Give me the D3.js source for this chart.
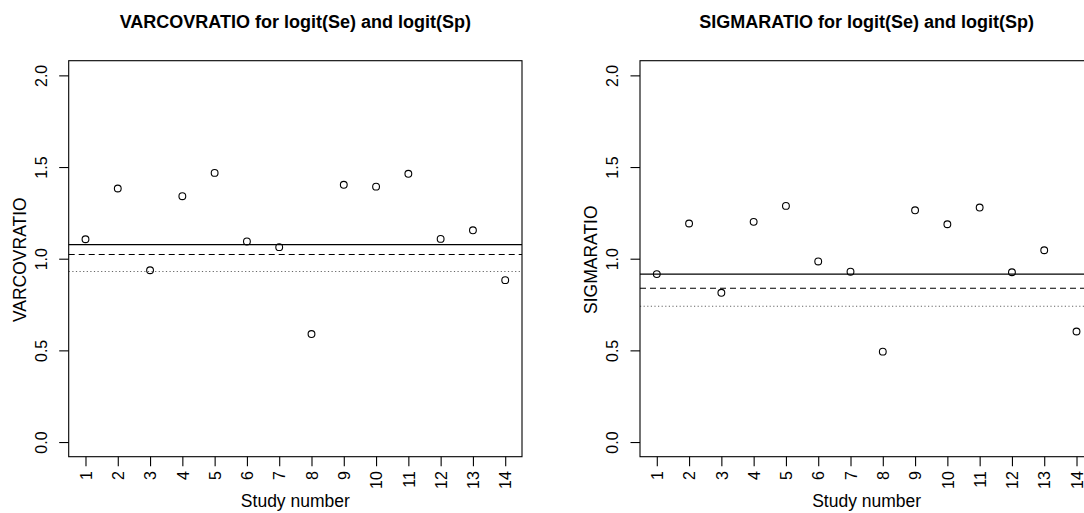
<!DOCTYPE html>
<html>
<head>
<meta charset="utf-8">
<script src="https://cdn.jsdelivr.net/npm/d3@7"></script>
<style>
  html, body { margin: 0; padding: 0; background: #fff; overflow: hidden; }
  svg { display: block; font-family: "Liberation Sans", Arial, Helvetica, sans-serif; }
</style>
</head>
<body>
<svg id="chart" width="1084" height="513"></svg>
<script>
// Study identifiers
const studies = [1, 2, 3, 4, 5, 6, 7, 8, 9, 10, 11, 12, 13, 14];

// Per-study ratio estimates
const varcovRatio = [1.106, 1.383, 0.937, 1.341, 1.468, 1.094, 1.063, 0.589, 1.403, 1.393, 1.463, 1.108, 1.155, 0.883];
const sigmaRatio  = [0.916, 1.192, 0.814, 1.201, 1.288, 0.985, 0.929, 0.493, 1.264, 1.188, 1.279, 0.926, 1.046, 0.603];

// Reference levels: solid, dashed, dotted
const varcovRefs = [1.077, 1.023, 0.930];
const sigmaRefs  = [0.916, 0.839, 0.741];

// Axis tick labels
const yTicks = [0.0, 0.5, 1.0, 1.5, 2.0];
const yDomain = [0, 2];

const panels = [
  { title: "VARCOVRATIO for logit(Se) and logit(Sp)", ylab: "VARCOVRATIO", values: varcovRatio, refs: varcovRefs, offset: 0 },
  { title: "SIGMARATIO for logit(Se) and logit(Sp)",  ylab: "SIGMARATIO",  values: sigmaRatio,  refs: sigmaRefs,  offset: 571.3 }
];

const svg = d3.select("#chart");

// R-style 4% padding on each axis range
function padded(lo, hi) {
  const d = (hi - lo) * 0.04;
  return [lo - d, hi + d];
}

const plotW = 453.3, plotH = 396;
const left0 = 68.7, top0 = 60.7;
const lineStyles = [
  { dash: null, color: "#000" },
  { dash: "6,4", color: "#000" },
  { dash: "1.2,2.4", color: "#666" }
];

panels.forEach(p => {
  const g = svg.append("g").attr("transform", `translate(${left0 + p.offset},${top0})`);

  const x = d3.scaleLinear().domain(padded(1, 14)).range([0, plotW]);
  const y = d3.scaleLinear().domain(padded(yDomain[0], yDomain[1])).range([plotH, 0]);

  // Reference lines
  p.refs.forEach((v, i) => {
    const s = lineStyles[i];
    g.append("line")
      .attr("x1", 0).attr("x2", plotW)
      .attr("y1", y(v)).attr("y2", y(v))
      .attr("stroke", s.color)
      .attr("stroke-width", 1.1)
      .attr("stroke-dasharray", s.dash);
  });

  // Study points
  g.selectAll("circle.pt")
    .data(p.values)
    .join("circle")
    .attr("class", "pt")
    .attr("cx", (d, i) => x(studies[i]))
    .attr("cy", d => y(d))
    .attr("r", 3.4)
    .attr("fill", "none")
    .attr("stroke", "#000")
    .attr("stroke-width", 1.1);

  // Plot frame
  g.append("rect")
    .attr("x", 0).attr("y", 0)
    .attr("width", plotW).attr("height", plotH)
    .attr("fill", "none").attr("stroke", "#000").attr("stroke-width", 1.1);

  // Y axis
  const yAxis = d3.axisLeft(y).tickValues(yTicks).tickSize(9.5).tickFormat(d3.format(".1f"));
  const ya = g.append("g").call(yAxis);
  ya.select(".domain").remove();
  ya.selectAll(".tick line").attr("stroke", "#000").attr("stroke-width", 1.1);
  ya.selectAll(".tick text")
    .attr("x", null).attr("dy", null)
    .attr("transform", `translate(-21.7,0) rotate(-90)`)
    .attr("text-anchor", "middle")
    .attr("font-size", 16)
    .attr("fill", "#000")
    .attr("font-family", "Liberation Sans, Arial, sans-serif");

  // X axis
  const xAxis = d3.axisBottom(x).tickValues(studies).tickSize(9.5).tickFormat(d3.format("d"));
  const xa = g.append("g").attr("transform", `translate(0,${plotH})`).call(xAxis);
  xa.select(".domain").remove();
  xa.selectAll(".tick line").attr("stroke", "#000").attr("stroke-width", 1.1);
  xa.selectAll(".tick text")
    .attr("y", null).attr("dy", null)
    .attr("transform", `translate(5.7,14.5) rotate(-90)`)
    .attr("text-anchor", "end")
    .attr("font-size", 16)
    .attr("fill", "#000")
    .attr("font-family", "Liberation Sans, Arial, sans-serif");

  // Axis titles
  g.append("text")
    .attr("transform", `translate(${-42.7},${plotH / 2 + 1}) rotate(-90)`)
    .attr("text-anchor", "middle")
    .attr("font-size", 17.5)
    .text(p.ylab);

  g.append("text")
    .attr("x", plotW / 2).attr("y", plotH + 50.5)
    .attr("text-anchor", "middle")
    .attr("font-size", 17.5)
    .text("Study number");

  // Panel title
  g.append("text")
    .attr("x", plotW / 2).attr("y", -33)
    .attr("text-anchor", "middle")
    .attr("font-size", 18)
    .attr("font-weight", "bold")
    .text(p.title);
});
</script>
</body>
</html>
